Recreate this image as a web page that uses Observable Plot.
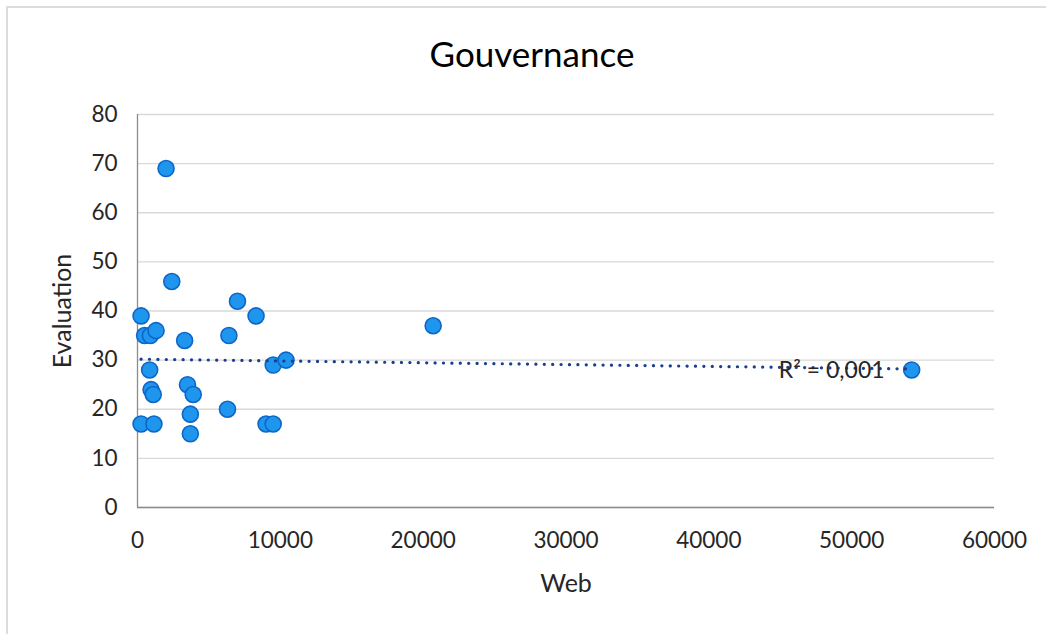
<!DOCTYPE html>
<html>
<head>
<meta charset="utf-8">
<script src="https://cdn.jsdelivr.net/npm/d3@7"></script>
<script src="https://cdn.jsdelivr.net/npm/@observablehq/plot@0.6"></script>
<style>
  html, body { margin: 0; padding: 0; background: #fff; }
  #wrap { position: relative; width: 1046px; height: 634px; overflow: hidden; background: #fff; }
  #frame { position: absolute; left: 6px; top: 6px; right: -10px; bottom: -10px;
           border-left: 2px solid #dcdcdc; border-top: 2px solid #dcdcdc; pointer-events: none; }
  #chart { position: absolute; left: 0; top: 0; }
</style>
</head>
<body>
<div id="wrap"><div id="chart"></div><div id="frame"></div></div>
<script>
// Data
const web = [2000, 2400, 7000, 250, 8300, 500, 900, 1300, 3300, 6400, 9500, 10400, 850, 950, 1100, 3500, 3900, 3700, 6300, 250, 1150, 3700, 9000, 9500, 20700, 54200];
const evaluation = [69, 46, 42, 39, 39, 35, 35, 36, 34, 35, 29, 30, 28, 24, 23, 25, 23, 19, 20, 17, 17, 15, 17, 17, 37, 28];
const xTicks = [0, 10000, 20000, 30000, 40000, 50000, 60000];
const yTicks = [0, 10, 20, 30, 40, 50, 60, 70, 80];
const title = "Gouvernance";
const xLabel = "Web";
const yLabel = "Evaluation";
const r2Label = ["R² = 0,001"];
const r2Anchor = [{x: 48600, y: 27.8}];

const points = web.map((w, i) => ({web: w, evaluation: evaluation[i]}));
const font = "Lato, 'Open Sans', sans-serif";

const chart = Plot.plot({
  width: 1046,
  height: 634,
  marginLeft: 137,
  marginRight: 52,
  marginTop: 114,
  marginBottom: 127,
  style: {fontFamily: font, fontSize: "22.5px", color: "#262626", background: "transparent"},
  x: {domain: [0, 60000], ticks: xTicks, tickFormat: d => String(d), label: null},
  y: {domain: [0, 80], ticks: yTicks, label: null},
  marks: [
    Plot.gridY(yTicks, {stroke: "#d9d9d9", strokeOpacity: 1, strokeWidth: 1.3}),
    Plot.axisX({ticks: xTicks, tickSize: 0, tickPadding: 25, tickFormat: d => String(d), label: null, fill: "#262626"}),
    Plot.axisY({ticks: yTicks, tickSize: 0, tickPadding: 20, label: null, fill: "#262626"}),
    Plot.ruleX([0], {stroke: "#8c8c8c", strokeWidth: 1.3}),
    Plot.ruleY([0], {stroke: "#8c8c8c", strokeWidth: 1.3}),
    Plot.dot(points, {x: "web", y: "evaluation", r: 8, fill: "#1f96ee", stroke: "#0d66c8", strokeWidth: 1.6}),
    Plot.linearRegressionY(points, {x: "web", y: "evaluation", ci: 0, stroke: "#1a3f8f", strokeWidth: 3.2,
      strokeDasharray: "0.1 8.3", strokeLinecap: "round"}),
    Plot.text(r2Anchor, {x: "x", y: "y", text: () => r2Label[0], fontSize: 23, fill: "#262626"}),
    Plot.text([title], {frameAnchor: "top", lineAnchor: "middle", textAnchor: "middle", dx: -34, dy: -59, fontSize: 35, fill: "#000"}),
    Plot.text([xLabel], {frameAnchor: "bottom", lineAnchor: "middle", textAnchor: "middle", dy: 76, fontSize: 25, fill: "#262626"}),
    Plot.text([yLabel], {frameAnchor: "left", lineAnchor: "middle", textAnchor: "middle", dx: -75, rotate: -90, fontSize: 25, fill: "#262626"})
  ]
});
document.getElementById("chart").appendChild(chart);
</script>
</body>
</html>
